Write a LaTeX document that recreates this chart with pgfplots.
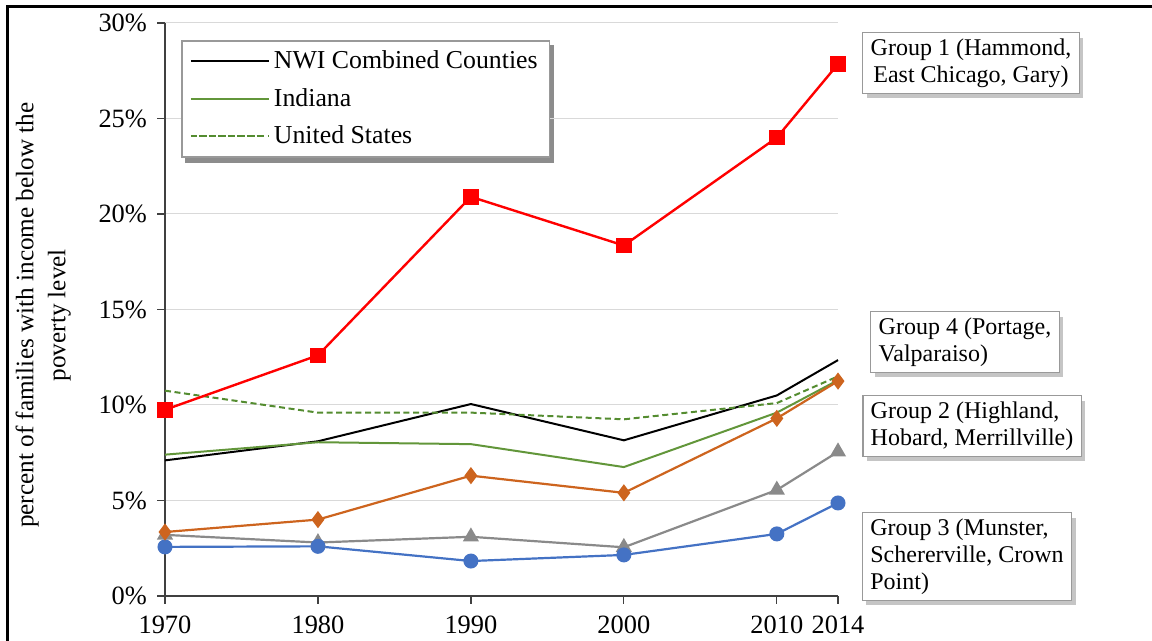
\documentclass[border=0pt]{standalone}
\usepackage{pgfplots}
\pgfplotsset{compat=1.18}
\usepackage{fontspec}
\setmainfont{Liberation Serif}
\usetikzlibrary{shadows}
\pgfdeclarelayer{bg}
\pgfsetlayers{bg,main}
\definecolor{gred}{RGB}{255,0,0}
\definecolor{gorange}{RGB}{205,100,30}
\definecolor{ggray}{RGB}{138,138,138}
\definecolor{gblue}{RGB}{68,114,196}
\definecolor{ind}{RGB}{98,150,58}
\definecolor{usg}{RGB}{84,140,48}
\begin{document}
\begin{tikzpicture}
\useasboundingbox (0pt,0pt) rectangle (576pt,320.5pt);
\draw[black, line width=1.5pt] (3.5pt,0pt) -- (3.5pt,317pt) -- (576pt,317pt);
\begin{axis}[
  at={(82.5pt,22.5pt)}, anchor=south west,
  scale only axis, width=336.5pt, height=286.5pt,
  xmin=1970, xmax=2014, ymin=0, ymax=30,
  clip=false,
  axis x line*=bottom, axis y line*=left,
  axis line style={-, black!75, line width=0.6pt},
  xtick={1970,1980,1990,2000,2010,2014},
  xticklabels={1970,1980,1990,2000,2010,2014},
  ytick={0,5,10,15,20,25,30},
  yticklabels={0\%,5\%,10\%,15\%,20\%,25\%,30\%},
  tick align=outside, major tick length=4pt,
  tick style={black!75, line width=0.6pt},
  ymajorgrids, grid style={black!15, line width=0.5pt},
  ticklabel style={font=\fontsize{13.2}{15}\selectfont},
  yticklabel style={xshift=-1.5pt},
  xticklabel style={yshift=-2.5pt},
  ylabel={percent of families with income below the\\poverty level},
  ylabel style={align=center, font=\fontsize{12.6}{16}\selectfont, at={(axis description cs:-0.181,0.49)}, anchor=center},
  legend style={name=leg, at={(axis description cs:0.024,0.97)}, anchor=north west,
    draw=black!40, fill=white, line width=0.8pt,
    font=\fontsize{12.9}{15}\selectfont, inner xsep=4pt, inner ysep=3pt, row sep=4.3pt,
    legend cell align=left},
  legend image code/.code={\draw[#1] (0pt,0pt) -- (32.5pt,0pt); \path (-4pt,0pt) -- (35pt,0pt);},
]
\addplot[black, line width=1pt] coordinates {(1970,7.1) (1980,8.1) (1990,10.05) (2000,8.15) (2010,10.5) (2014,12.35)};
\addlegendentry{NWI Combined Counties}
\addplot[ind, line width=1pt] coordinates {(1970,7.4) (1980,8.05) (1990,7.95) (2000,6.75) (2010,9.6) (2014,11.3)};
\addlegendentry{Indiana}
\addplot[usg, line width=1pt, dash pattern=on 3pt off 1.8pt] coordinates {(1970,10.75) (1980,9.6) (1990,9.6) (2000,9.25) (2010,10.1) (2014,11.5)};
\addlegendentry{United States}
\addplot[ggray, line width=1.1pt, mark=triangle*, mark size=3.6pt, mark options={solid}, forget plot] coordinates {(1970,3.2) (1980,2.8) (1990,3.1) (2000,2.55) (2010,5.55) (2014,7.55)};
\addplot[gblue, line width=1.1pt, mark=*, mark size=3.2pt, forget plot] coordinates {(1970,2.57) (1980,2.6) (1990,1.83) (2000,2.15) (2010,3.25) (2014,4.87)};
\addplot[gorange, line width=1.1pt, mark=diamond*, mark size=3.4pt, forget plot] coordinates {(1970,3.35) (1980,4.0) (1990,6.3) (2000,5.4) (2010,9.3) (2014,11.25)};
\addplot[gred, line width=1.2pt, mark=square*, mark size=3.3pt, forget plot] coordinates {(1970,9.75) (1980,12.6) (1990,20.9) (2000,18.35) (2010,24.0) (2014,27.85)};
\end{axis}
\begin{pgfonlayer}{bg}
\fill[black!45] ([xshift=2pt,yshift=-2.5pt]leg.south west) rectangle ([xshift=2pt,yshift=-2.5pt]leg.north east);
\end{pgfonlayer}
\tikzset{ann/.style={draw=black!40, fill=white, line width=0.8pt, drop shadow={shadow xshift=2pt, shadow yshift=-2.5pt, fill=black!45}, font=\fontsize{12}{13.5}\selectfont, inner xsep=4pt, inner ysep=3pt}}
\node[ann, align=center] at (485.5pt,289pt) {Group 1 (Hammond,\\East Chicago, Gary)};
\node[ann, align=left] at (482.5pt,149.5pt) {Group 4 (Portage,\\Valparaiso)};
\node[ann, align=left] at (486pt,107.5pt) {Group 2 (Highland,\\Hobard, Merrillville)};
\node[ann, align=left] at (483.5pt,42.25pt) {Group 3 (Munster,\\Schererville, Crown\\Point)};
\end{tikzpicture}
\end{document}
